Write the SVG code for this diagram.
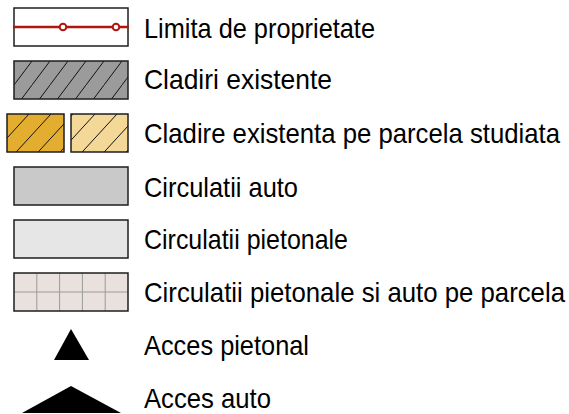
<svg xmlns="http://www.w3.org/2000/svg" width="569" height="414" viewBox="0 0 569 414">
<style>
.lbl{font-family:"Liberation Sans",Arial,sans-serif;font-size:25px;fill:#000}
.box{stroke:#1e1e1e;stroke-width:1.5}
</style>
<defs>
<pattern id="hatchGray" patternUnits="userSpaceOnUse" x="14" y="61" width="18" height="24">
<path d="M-1,25.3 L19,-1.3" stroke="#111" stroke-width="1"/>
</pattern>
<pattern id="hatchOrange" patternUnits="userSpaceOnUse" x="7" y="114" width="22" height="24">
<path d="M-1,25.1 L23,-1.1" stroke="#111" stroke-width="1"/>
</pattern>
</defs>
<rect width="569" height="414" fill="#fff"/>

<g id="item-limita">
<rect class="box" x="14" y="8" width="114" height="38" fill="#fff"/>
<line x1="13" y1="27" x2="129" y2="27" stroke="#b3140f" stroke-width="2.5"/>
<circle cx="63" cy="27" r="3.3" fill="#fff" stroke="#b3140f" stroke-width="2"/>
<circle cx="116" cy="27" r="3.3" fill="#fff" stroke="#b3140f" stroke-width="2"/>
<text class="lbl" transform="translate(144,38) scale(1,1.14)" textLength="231" lengthAdjust="spacingAndGlyphs">Limita de proprietate</text>
</g>

<g id="item-cladiri">
<rect x="14" y="61" width="114" height="38" fill="#9b9b9b"/>
<rect x="14" y="61" width="114" height="38" fill="url(#hatchGray)"/>
<rect class="box" x="14" y="61" width="114" height="38" fill="none"/>
<text class="lbl" transform="translate(144,89) scale(1,1.14)" textLength="188" lengthAdjust="spacingAndGlyphs">Cladiri existente</text>
</g>

<g id="item-cladire-parcela">
<rect x="7" y="114" width="57" height="38" fill="#e3ae30"/>
<rect x="7" y="114" width="57" height="38" fill="url(#hatchOrange)"/>
<rect class="box" x="7" y="114" width="57" height="38" fill="none"/>
<rect x="71" y="114" width="57" height="38" fill="#f3d898"/>
<rect x="71" y="114" width="57" height="38" fill="url(#hatchOrange)"/>
<rect class="box" x="71" y="114" width="57" height="38" fill="none"/>
<text class="lbl" transform="translate(144,143) scale(1,1.14)" textLength="416" lengthAdjust="spacingAndGlyphs">Cladire existenta pe parcela studiata</text>
</g>

<g id="item-circ-auto">
<rect class="box" x="14" y="167" width="114" height="38" fill="#c9c9c9"/>
<text class="lbl" transform="translate(144,197) scale(1,1.14)" textLength="154" lengthAdjust="spacingAndGlyphs">Circulatii auto</text>
</g>

<g id="item-circ-pietonale">
<rect class="box" x="14" y="220" width="114" height="38" fill="#e6e6e6"/>
<text class="lbl" transform="translate(144,249) scale(1,1.14)" textLength="204" lengthAdjust="spacingAndGlyphs">Circulatii pietonale</text>
</g>

<g id="item-circ-parcela">
<rect x="14" y="273" width="114" height="38" fill="#e9e1de"/>
<g stroke="#9a9a9a" stroke-width="1">
<line x1="36.8" y1="273" x2="36.8" y2="311"/>
<line x1="59.6" y1="273" x2="59.6" y2="311"/>
<line x1="82.4" y1="273" x2="82.4" y2="311"/>
<line x1="105.2" y1="273" x2="105.2" y2="311"/>
<line x1="14" y1="292" x2="128" y2="292"/>
</g>
<rect class="box" x="14" y="273" width="114" height="38" fill="none"/>
<text class="lbl" transform="translate(144,302) scale(1,1.14)" textLength="421" lengthAdjust="spacingAndGlyphs">Circulatii pietonale si auto pe parcela</text>
</g>

<g id="item-acces-pietonal">
<polygon points="71,329 89,360 54,360" fill="#000"/>
<text class="lbl" transform="translate(144,355) scale(1,1.14)" textLength="165" lengthAdjust="spacingAndGlyphs">Acces pietonal</text>
</g>

<g id="item-acces-auto">
<polygon points="71,386 121,413 22,413" fill="#000"/>
<text class="lbl" transform="translate(144,408) scale(1,1.14)" textLength="127" lengthAdjust="spacingAndGlyphs">Acces auto</text>
</g>

<g id="connectors"></g>
</svg>
